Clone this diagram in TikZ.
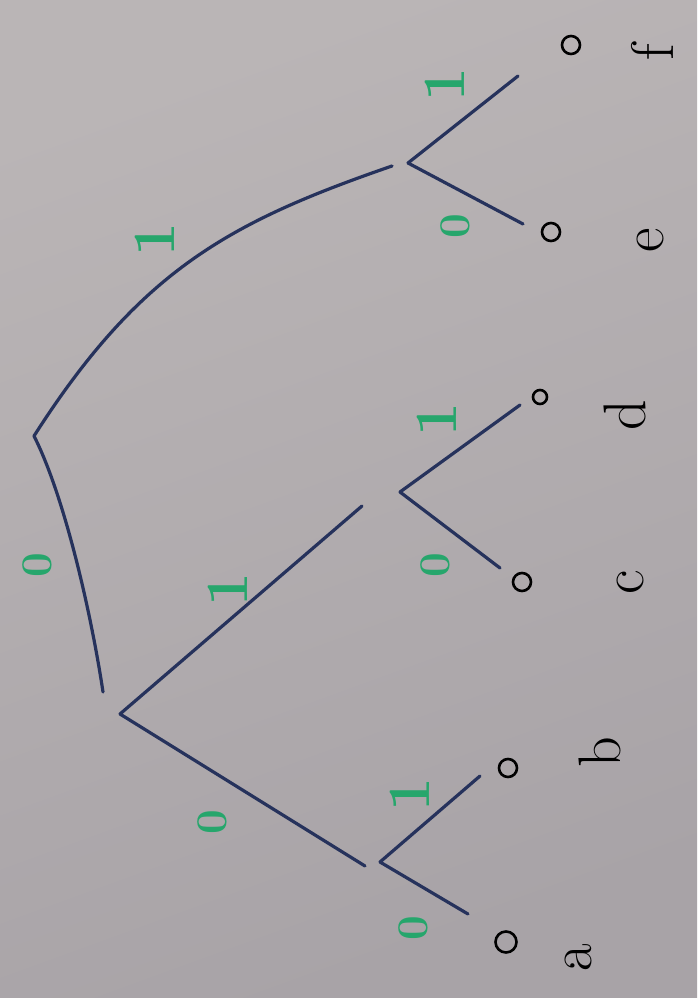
\documentclass[tikz,border=0pt]{standalone}
\definecolor{paperlight}{RGB}{186,181,182}
\definecolor{paperdark}{RGB}{168,163,167}
\definecolor{ink}{RGB}{38,50,92}
\definecolor{bitgreen}{RGB}{38,166,108}
\tikzset{
  edge/.style={draw=ink, line width=3.2pt, line cap=round, line join=round},
  bit/.style={text=bitgreen, font=\fontsize{44}{46}\selectfont\bfseries, rotate=90, inner sep=0pt},
  bitone/.style={bit, font=\fontsize{60}{62}\selectfont\bfseries},
  leafring/.style={circle, draw=black, line width=2.6pt, minimum size=18pt, inner sep=0pt},
  letter/.style={text=black, font=\fontsize{60}{62}\selectfont, rotate=90, inner sep=0pt}
}
\begin{document}
\begin{tikzpicture}[x=1pt, y=-1pt]
\shade[top color=paperlight, bottom color=paperdark, shading angle=20] (0,0) rectangle (697,998);
\useasboundingbox (0,0) rectangle (697,998);
% inner vertices
\coordinate (root) at (34,436);
\coordinate (nEF) at (408,163);
\coordinate (efIn) at (392,166);
\coordinate (nL) at (120,714);
\coordinate (lIn) at (103,692);
\coordinate (nCD) at (400,492);
\coordinate (cdIn) at (362,506);
\coordinate (nAB) at (380,862);
\coordinate (abIn) at (365,866);
% leaf stroke ends
\coordinate (fEnd) at (518,76);
\coordinate (eEnd) at (523,224);
\coordinate (dEnd) at (520,405);
\coordinate (cEnd) at (500,568);
\coordinate (bEnd) at (480,776);
\coordinate (aEnd) at (468,914);
% leaf rings
\node[leafring] (lf) at (571,45) {};
\node[leafring] (le) at (551,232) {};
\node[leafring, minimum size=14pt] (ld) at (540,397) {};
\node[leafring] (lc) at (522,582) {};
\node[leafring] (lb) at (508,768) {};
\node[leafring, minimum size=21pt] (la) at (506,942) {};
% letters
\node[letter] (tf) at (652,52) {f};
\node[letter] (te) at (650,240) {e};
\node[letter] (td) at (625,415) {d};
\node[letter] (tc) at (630,582) {c};
\node[letter] (tb) at (600,752) {b};
\node[letter] (ta) at (578,958) {a};
% edges
\draw[edge] (root) .. controls (140,270) and (230,222) .. (efIn);
\draw[edge] (root) .. controls (64,495) and (91,612) .. (lIn);
\draw[edge] (nEF) -- (fEnd);
\draw[edge] (nEF) -- (eEnd);
\draw[edge] (nL) -- (cdIn);
\draw[edge] (nL) -- (abIn);
\draw[edge] (nCD) -- (dEnd);
\draw[edge] (nCD) -- (cEnd);
\draw[edge] (nAB) -- (bEnd);
\draw[edge] (nAB) -- (aEnd);
% bit labels
\node[bitone] (b1) at (155,240) {1};
\node[bit] (b2) at (37,565) {0};
\node[bitone] (b3) at (228,590) {1};
\node[bit] (b4) at (212,822) {0};
\node[bitone] (b5) at (445,85) {1};
\node[bit] (b6) at (455,226) {0};
\node[bitone] (b7) at (437,420) {1};
\node[bit] (b8) at (435,565) {0};
\node[bitone] (b9) at (410,795) {1};
\node[bit] (b10) at (413,928) {0};
\end{tikzpicture}
\end{document}
